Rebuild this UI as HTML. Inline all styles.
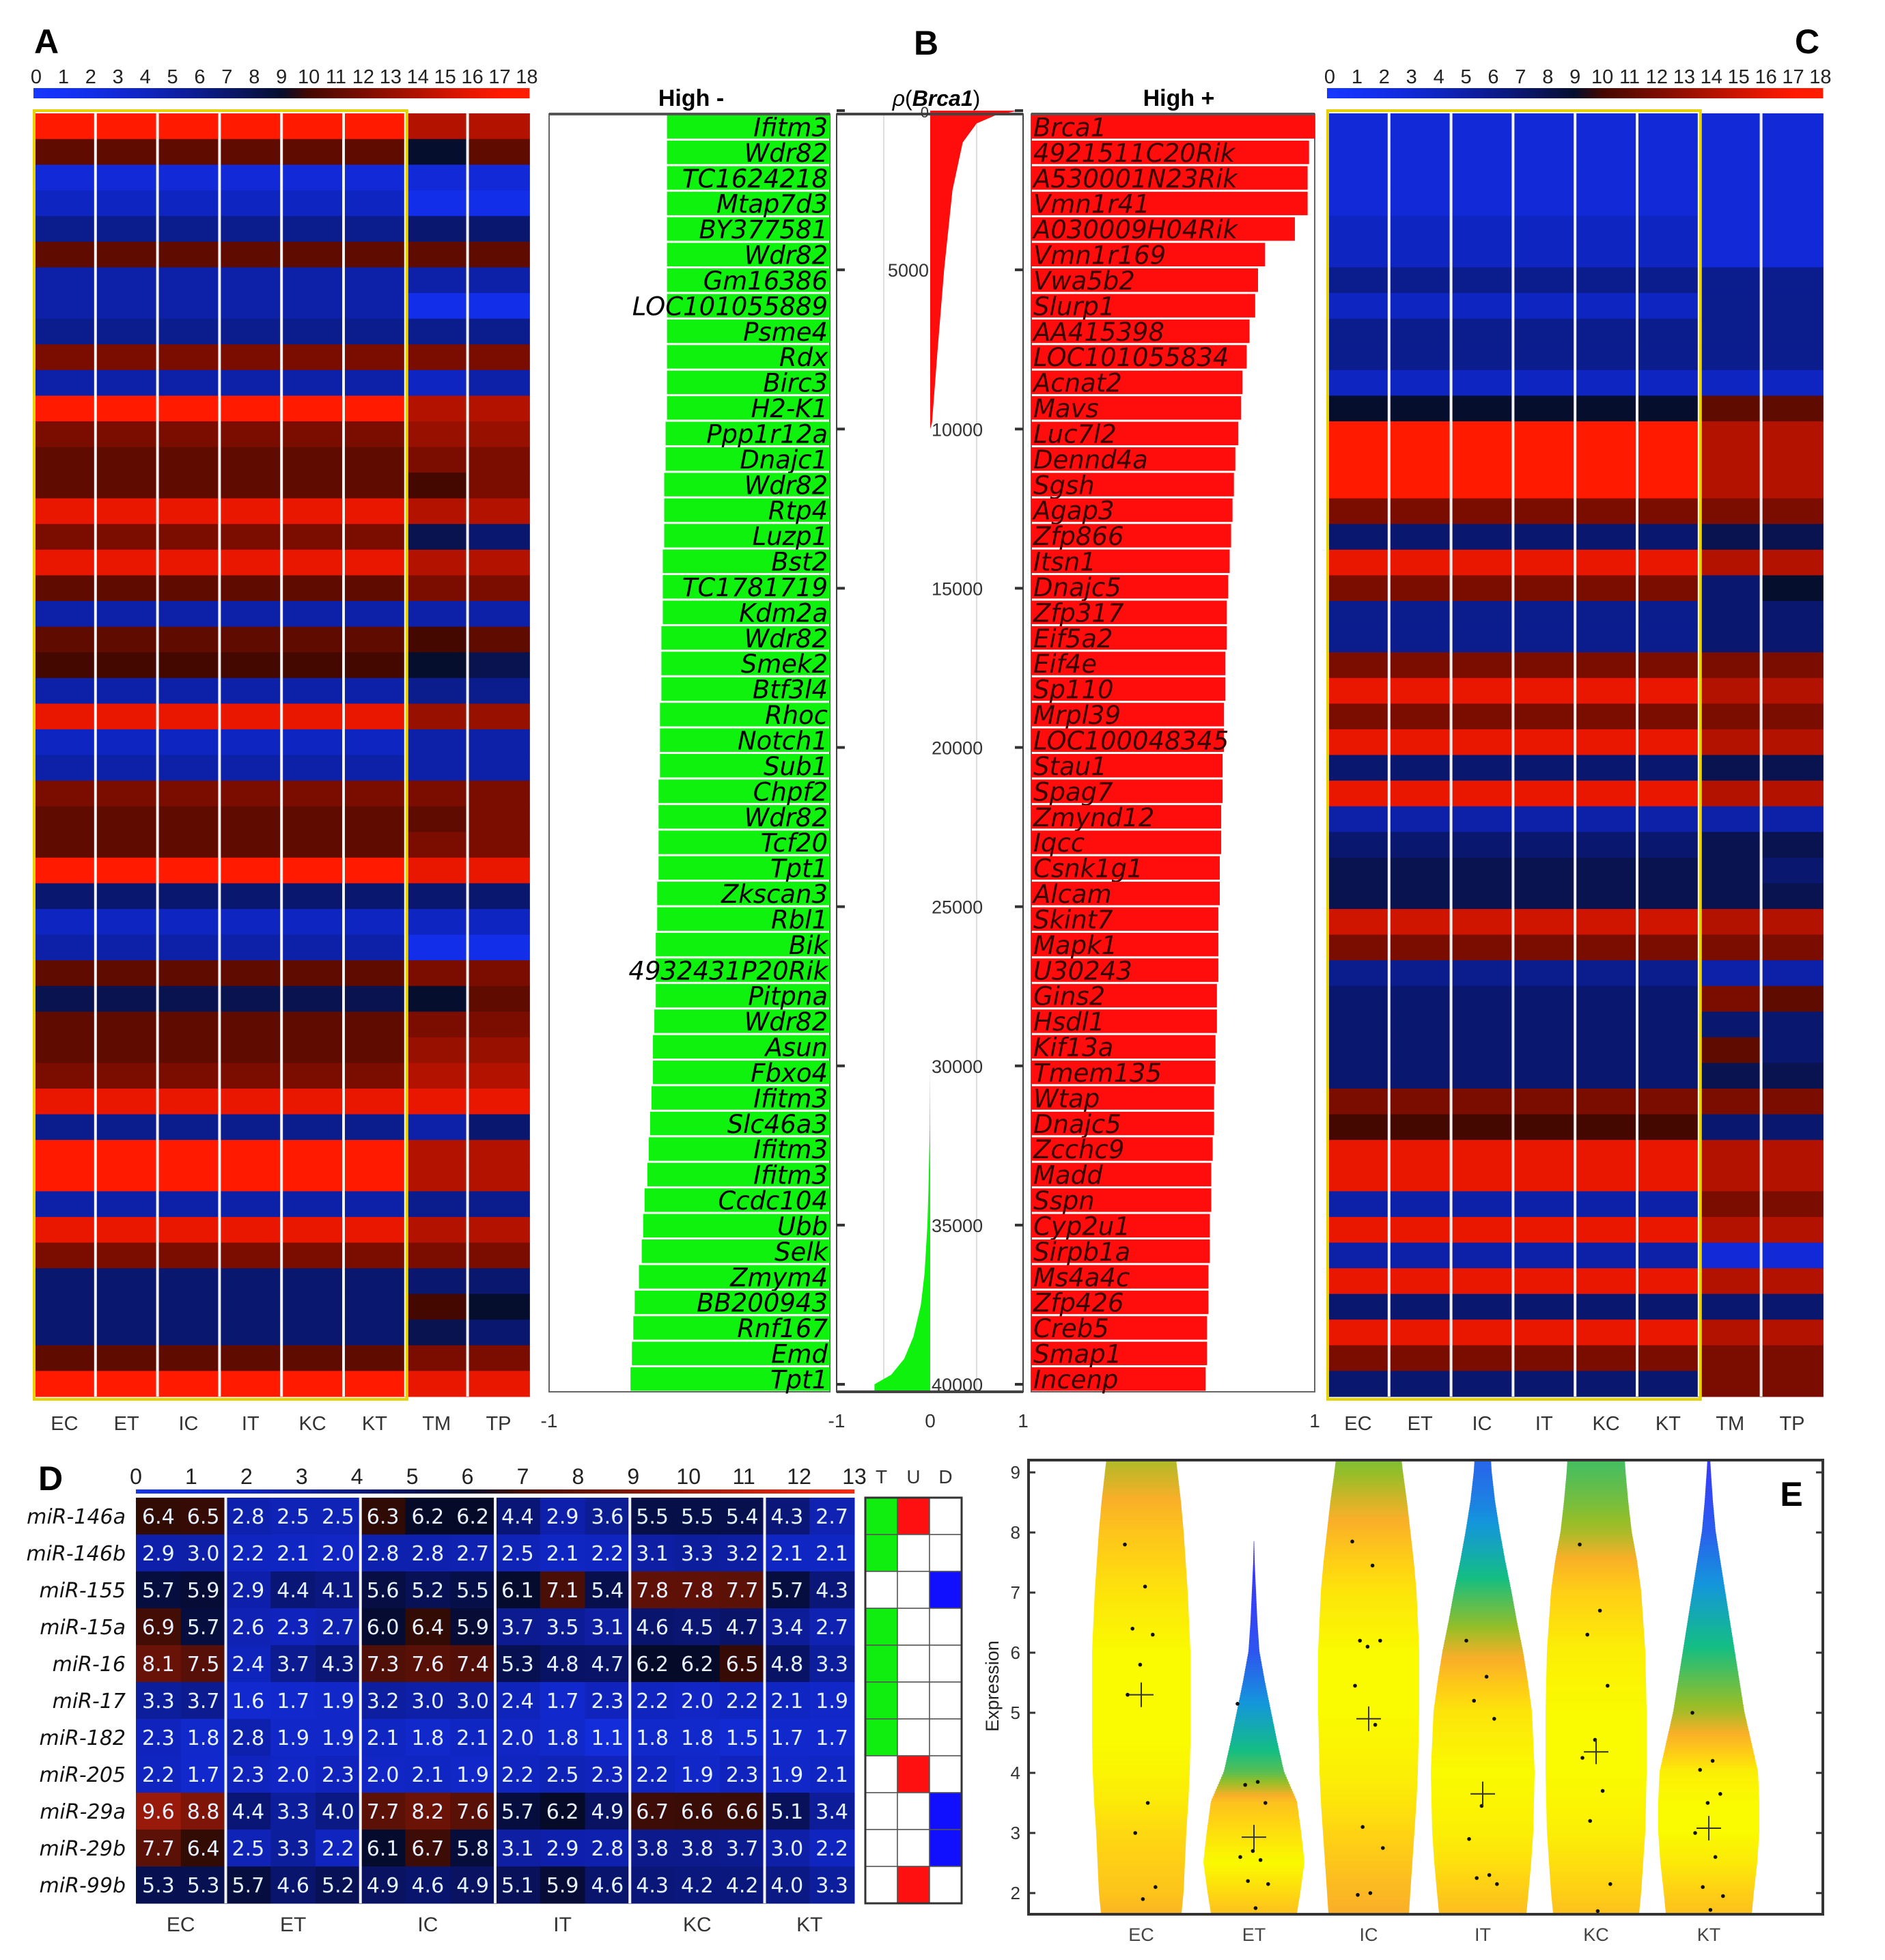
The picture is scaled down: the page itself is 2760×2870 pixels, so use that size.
<!DOCTYPE html>
<html><head><meta charset="utf-8"><style>
html,body{margin:0;padding:0;background:#fff;}
svg{display:block;}
text{font-family:"Liberation Sans","DejaVu Sans",sans-serif;}
.gene{font-family:"DejaVu Sans","Liberation Sans",sans-serif;font-style:italic;}
</style></head><body>
<svg id="fig" width="2760" height="2870" viewBox="0 0 2760 2870" xmlns="http://www.w3.org/2000/svg">
<rect x="0" y="0" width="2760" height="2870" fill="#fff"/>
<g id="pA"></g>
<g id="pB"></g>
<g id="pC"></g>
<g id="pD"></g>
<g id="pE"></g>
</svg>
<script>
// ---------- data ----------
const sampleCols = ['EC','ET','IC','IT','KC','KT','TM','TP'];
const aMain = [17,11,3,4,6,11,5,5,6,12,5,17,12,11,11,16,12,16,11,5,11,10,5,16,4,5,12,11,11,17,7,4,5,11,8,11,11,12,16,6,17,17,5,16,12,7,7,7,11,17];
const aTM   = [14,9,3,2,7,11,5,2,6,12,4,14,13,12,10,14,8,14,12,5,10,9,6,13,5,5,12,11,12,16,7,4,2,12,9,12,13,14,16,5,14,14,6,14,12,7,10,8,12,16];
const aTP   = [14,11,3,2,7,11,5,2,6,12,5,14,13,12,12,14,7,14,12,5,11,8,6,13,5,5,12,12,12,16,7,4,2,12,11,12,13,14,16,7,14,14,6,14,12,7,9,7,12,16];
const cMain = [3,3,3,3,4,4,6,4,6,6,4,9,17,17,17,12,7,16,12,6,6,12,16,12,16,7,16,5,7,8,8,15,12,6,7,7,7,7,12,10,16,16,5,16,5,16,7,16,12,7];
const cTM   = [3,3,3,3,3,3,6,6,6,6,4,11,14,14,14,12,8,14,7,7,7,12,14,12,14,8,14,5,8,8,8,14,12,5,12,7,11,8,12,7,14,14,12,14,3,14,7,14,12,12];
const cTP   = [3,3,3,3,3,3,6,6,6,6,4,11,14,14,14,12,8,14,9,7,7,12,14,12,14,8,14,5,8,7,8,14,12,5,11,7,7,8,12,7,14,14,12,14,3,14,7,14,12,12];
const negGenes = ['Ifitm3','Wdr82','TC1624218','Mtap7d3','BY377581','Wdr82','Gm16386','LOC101055889','Psme4','Rdx','Birc3','H2-K1','Ppp1r12a','Dnajc1','Wdr82','Rtp4','Luzp1','Bst2','TC1781719','Kdm2a','Wdr82','Smek2','Btf3l4','Rhoc','Notch1','Sub1','Chpf2','Wdr82','Tcf20','Tpt1','Zkscan3','Rbl1','Bik','4932431P20Rik','Pitpna','Wdr82','Asun','Fbxo4','Ifitm3','Slc46a3','Ifitm3','Ifitm3','Ccdc104','Ubb','Selk','Zmym4','BB200943','Rnf167','Emd','Tpt1'];
const negRho = [-0.58,-0.58,-0.58,-0.58,-0.58,-0.58,-0.58,-0.58,-0.58,-0.58,-0.58,-0.58,-0.585,-0.585,-0.59,-0.59,-0.59,-0.595,-0.595,-0.595,-0.6,-0.6,-0.6,-0.605,-0.605,-0.605,-0.61,-0.61,-0.61,-0.61,-0.615,-0.615,-0.62,-0.62,-0.62,-0.625,-0.63,-0.63,-0.635,-0.64,-0.645,-0.65,-0.66,-0.665,-0.67,-0.68,-0.695,-0.7,-0.705,-0.71];
const posGenes = ['Brca1','4921511C20Rik','A530001N23Rik','Vmn1r41','A030009H04Rik','Vmn1r169','Vwa5b2','Slurp1','AA415398','LOC101055834','Acnat2','Mavs','Luc7l2','Dennd4a','Sgsh','Agap3','Zfp866','Itsn1','Dnajc5','Zfp317','Eif5a2','Eif4e','Sp110','Mrpl39','LOC100048345','Stau1','Spag7','Zmynd12','Iqcc','Csnk1g1','Alcam','Skint7','Mapk1','U30243','Gins2','Hsdl1','Kif13a','Tmem135','Wtap','Dnajc5','Zcchc9','Madd','Sspn','Cyp2u1','Sirpb1a','Ms4a4c','Zfp426','Creb5','Smap1','Incenp'];
const posRho = [1.0,0.98,0.975,0.975,0.93,0.825,0.8,0.79,0.77,0.76,0.745,0.74,0.73,0.72,0.715,0.71,0.705,0.7,0.695,0.69,0.69,0.685,0.685,0.68,0.68,0.675,0.675,0.67,0.67,0.665,0.665,0.66,0.66,0.66,0.655,0.655,0.65,0.65,0.645,0.645,0.64,0.635,0.635,0.63,0.63,0.625,0.625,0.62,0.62,0.615];
const redRank = [0,150,400,1000,2500,5000,7500,9800,10000];
const redRho  = [0.95,0.7,0.5,0.35,0.24,0.15,0.08,0.02,0];
const greenRank = [30000,32000,34000,35000,36500,37500,38500,39200,39700,40000];
const greenRho  = [0,-0.005,-0.02,-0.03,-0.06,-0.1,-0.18,-0.28,-0.42,-0.6];
const rankTicks = [0,5000,10000,15000,20000,25000,30000,35000,40000];
const mirNames = ['miR-146a','miR-146b','miR-155','miR-15a','miR-16','miR-17','miR-182','miR-205','miR-29a','miR-29b','miR-99b'];
const mirVals = [
[6.4,6.5,2.8,2.5,2.5,6.3,6.2,6.2,4.4,2.9,3.6,5.5,5.5,5.4,4.3,2.7],
[2.9,3.0,2.2,2.1,2.0,2.8,2.8,2.7,2.5,2.1,2.2,3.1,3.3,3.2,2.1,2.1],
[5.7,5.9,2.9,4.4,4.1,5.6,5.2,5.5,6.1,7.1,5.4,7.8,7.8,7.7,5.7,4.3],
[6.9,5.7,2.6,2.3,2.7,6.0,6.4,5.9,3.7,3.5,3.1,4.6,4.5,4.7,3.4,2.7],
[8.1,7.5,2.4,3.7,4.3,7.3,7.6,7.4,5.3,4.8,4.7,6.2,6.2,6.5,4.8,3.3],
[3.3,3.7,1.6,1.7,1.9,3.2,3.0,3.0,2.4,1.7,2.3,2.2,2.0,2.2,2.1,1.9],
[2.3,1.8,2.8,1.9,1.9,2.1,1.8,2.1,2.0,1.8,1.1,1.8,1.8,1.5,1.7,1.7],
[2.2,1.7,2.3,2.0,2.3,2.0,2.1,1.9,2.2,2.5,2.3,2.2,1.9,2.3,1.9,2.1],
[9.6,8.8,4.4,3.3,4.0,7.7,8.2,7.6,5.7,6.2,4.9,6.7,6.6,6.6,5.1,3.4],
[7.7,6.4,2.5,3.3,2.2,6.1,6.7,5.8,3.1,2.9,2.8,3.8,3.8,3.7,3.0,2.2],
[5.3,5.3,5.7,4.6,5.2,4.9,4.6,4.9,5.1,5.9,4.6,4.3,4.2,4.2,4.0,3.3]];
const mirGroups = ['EC','ET','IC','IT','KC','KT'];
const mirGroupSizes = [2,3,3,3,3,2];
const tudT = [1,1,0,1,1,1,1,0,0,0,0];
const tudU = [1,0,0,0,0,0,0,1,0,0,1];
const tudD = [0,0,1,0,0,0,0,0,1,1,0];
const violinGroups = ['EC','ET','IC','IT','KC','KT'];
const vLevels = [1.65,2,2.5,3,3.5,4,4.5,5,5.5,6,6.5,7,7.5,8,8.5,9,9.2];
const vEC = [59,62,64,66,69,71,72,72,72,72,70,68,65,62,58,53,51];
const vET = [63,68,74,69,63,44,34,25,16,8,5,3,1,0,0,0,0];
const vIC = [59,61,64,67,70,72,73,74,74,74,72,70,66,61,56,50,48];
const vIT = [64,67,71,74,75,76,74,72,66,59,50,42,33,25,18,13,12];
const vKC = [63,66,69,72,73,74,74,74,73,72,69,66,60,52,47,43,42];
const vKT = [63,66,71,74,74,72,62,52,45,38,31,24,17,10,6,3,2];
const vMeans = [5.3,2.93,4.9,3.65,4.35,3.08];
const ptsEC = [7.8,7.1,6.4,6.3,5.8,5.3,3.5,3.0,2.1,1.9];
const ptsET = [5.15,3.85,3.8,3.5,2.7,2.6,2.55,2.2,2.15,1.75];
const ptsIC = [7.85,7.45,6.2,6.2,6.1,5.45,4.8,3.1,2.75,2.0,1.97];
const ptsIT = [6.2,5.6,5.2,4.9,3.45,2.9,2.3,2.25,2.15];
const ptsKC = [7.8,6.7,6.3,5.45,4.55,4.25,3.7,3.2,2.15,1.7];
const ptsKT = [5.0,4.2,4.05,3.65,3.5,3.0,2.6,2.1,1.95,1.72];

// ---------- helpers ----------
const NS='http://www.w3.org/2000/svg';
function mk(parent,tag,attrs,txt){const e=document.createElementNS(NS,tag);for(const k in attrs)e.setAttribute(k,attrs[k]);if(txt!==undefined)e.textContent=txt;parent.appendChild(e);return e;}
function lerp(a,b,t){return a+(b-a)*t;}
function rgb(r,g,b){return 'rgb('+Math.round(Math.min(255,r))+','+Math.round(Math.min(255,g))+','+Math.round(Math.min(255,b))+')';}
function heat18(v){
  if(v<=9){const t=v/9;return rgb(lerp(22,6,t),lerp(55,14,t),255-210*Math.pow(t,1.5));}
  const t=(v-9)/9;return rgb(40+250*t,6+22*t,0);
}
function heat13(v){
  if(v<=6.2){const t=v/6.2;return rgb(lerp(22,5,t),lerp(52,10,t),232-192*Math.pow(t,1.5));}
  const t=(v-6.2)/6.8;return rgb(45+215*t,10+30*t,5+10*t);
}
function parula(t){
  const stops=[[0,[60,50,250]],[0.3,[20,150,220]],[0.5,[20,190,130]],[0.68,[150,190,40]],[0.8,[250,175,40]],[0.9,[255,210,20]],[1,[250,250,0]]];
  t=Math.max(0,Math.min(1,t));
  for(let i=1;i<stops.length;i++){if(t<=stops[i][0]){const a=stops[i-1],b=stops[i];const u=(t-a[0])/(b[0]-a[0]);return rgb(lerp(a[1][0],b[1][0],u),lerp(a[1][1],b[1][1],u),lerp(a[1][2],b[1][2],u));}}
  return rgb(250,250,0);
}

// ---------- panel A & C heatmaps ----------
function heatPanel(g,x0,main,tm,tp,letter,letterX,pfx){
  const top=166,rowH=(2045-166)/50,colW=90.8;
  const lab=mk(g,'text',{x:letterX,y:78,'font-size':50,'font-weight':'bold','text-anchor':'middle'},letter);
  
  
  const gid='cb'+pfx;
  const defs=mk(g,'defs',{});
  const lg=mk(defs,'linearGradient',{id:gid,x1:0,x2:1,y1:0,y2:0});
  for(let i=0;i<=18;i++){mk(lg,'stop',{offset:(i/18),'stop-color':heat18(i)});}
  const cb=mk(g,'rect',{x:x0,y:129,width:colW*8,height:15,fill:'url(#'+gid+')'});
  
  
  for(let i=0;i<=18;i++){
    const t=mk(g,'text',{x:x0+4+i*(colW*8-8)/18,y:122,'font-size':29,'text-anchor':'middle',fill:'#222'},String(i));
    
    
  }
  for(let r=0;r<50;r++){
    for(let c=0;c<8;c++){
      const v=c<6?main[r]:(c===6?tm[r]:tp[r]);
      const cell=mk(g,'rect',{x:x0+c*colW,y:top+r*rowH,width:colW+0.5,height:rowH+0.5,fill:heat18(v)});
      
      
    }
  }
  for(let c=1;c<8;c++){mk(g,'rect',{x:x0+c*colW-2,y:top,width:4,height:rowH*50,fill:'#f4f4f4'});}
  const yb=mk(g,'rect',{x:x0+1,y:top-4,width:colW*6+1,height:rowH*50+8,fill:'none',stroke:'#e6d200','stroke-width':4});
  
  
  for(let c=0;c<8;c++){
    const t=mk(g,'text',{x:x0+(c+0.5)*colW,y:2094,'font-size':29,'text-anchor':'middle',fill:'#333'},sampleCols[c]);
    
    
  }
}
heatPanel(document.getElementById('pA'),49,aMain,aTM,aTP,'A',68,'a');
heatPanel(document.getElementById('pC'),1943,cMain,cTM,cTP,'C',2646,'c');

// ---------- panel B ----------
(function(){
  const g=document.getElementById('pB');
  const top=167,bot=2038,rowH=(bot-top)/50;
  const L0=804,L1=1215, M0=1225,Mz=1362,M1=1498, R0=1510,R1=1925;
  const xNeg=v=>L1+v*(L1-L0);
  const xPos=v=>R0+v*(R1-R0);
  const xMid=v=>Mz+v*(M1-Mz);
  const yRank=k=>162+k*(2027-162)/40000;
  const bl=mk(g,'text',{x:1356,y:80,'font-size':50,'font-weight':'bold','text-anchor':'middle'},'B');
  
  
  const t1=mk(g,'text',{x:1012,y:155,'font-size':34,'font-weight':'bold','text-anchor':'middle'},'High -');
  
  
  const t2=mk(g,'text',{x:1371,y:155,'font-size':32,'text-anchor':'middle'});
  
  
  mk(t2,'tspan',{'font-style':'italic'},'ρ');mk(t2,'tspan',{},'(');mk(t2,'tspan',{'font-style':'italic','font-weight':'bold'},'Brca1');mk(t2,'tspan',{},')');
  const t3=mk(g,'text',{x:1726,y:155,'font-size':34,'font-weight':'bold','text-anchor':'middle'},'High +');
  
  
  mk(g,'rect',{x:L0,y:top,width:L1-L0,height:bot-top,fill:'#fff',stroke:'#666','stroke-width':2});
  mk(g,'rect',{x:R0,y:top,width:R1-R0,height:bot-top,fill:'#fff',stroke:'#666','stroke-width':2});
  for(let i=0;i<50;i++){
    const y=top+i*rowH;
    const b=mk(g,'rect',{x:xNeg(negRho[i]),y:y+1.5,width:L1-xNeg(negRho[i]),height:rowH-3,fill:'#0ef20e'});
    
    
    const tx=mk(g,'text',{class:'gene',x:L1-3,y:y+rowH-5,'font-size':37,'text-anchor':'end',fill:'#000','font-weight':'500'},negGenes[i]);
    
    
    const rb=mk(g,'rect',{x:R0,y:y+1.5,width:xPos(posRho[i])-R0,height:rowH-3,fill:'#ff0d0d'});
    
    
    const rt=mk(g,'text',{class:'gene',x:R0+3,y:y+rowH-5,'font-size':37,'text-anchor':'start',fill:'#3a0000'},posGenes[i]);
    
    
  }
  mk(g,'line',{x1:L0,y1:top,x2:L1,y2:top,stroke:'#555','stroke-width':4});
  mk(g,'line',{x1:R0,y1:top,x2:R1,y2:top,stroke:'#555','stroke-width':4});
  mk(g,'rect',{x:M0,y:top,width:M1-M0,height:bot-top,fill:'#fff',stroke:'#444','stroke-width':2});
  [-0.5,0.5].forEach(v=>mk(g,'line',{x1:xMid(v),y1:top,x2:xMid(v),y2:bot,stroke:'#ddd','stroke-width':2}));
  let d='M'+xMid(0)+','+yRank(redRank[0]);
  for(let i=0;i<redRank.length;i++)d+=' L'+xMid(redRho[i]).toFixed(1)+','+yRank(redRank[i]).toFixed(1);
  d+=' L'+xMid(0)+','+yRank(redRank[redRank.length-1])+' Z';
  const rc=mk(g,'path',{d:d,fill:'#ff0d0d'});
  
  
  let d2='M'+xMid(0)+','+yRank(greenRank[0]);
  for(let i=0;i<greenRank.length;i++)d2+=' L'+xMid(greenRho[i]).toFixed(1)+','+yRank(greenRank[i]).toFixed(1);
  d2+=' L'+xMid(greenRho[greenRho.length-1]).toFixed(1)+','+bot+' L'+xMid(0)+','+bot+' Z';
  const gc=mk(g,'path',{d:d2,fill:'#0ef20e'});
  
  
  mk(g,'line',{x1:M0,y1:top,x2:M1,y2:top,stroke:'#444','stroke-width':4});
  mk(g,'line',{x1:M0,y1:bot,x2:M1,y2:bot,stroke:'#444','stroke-width':4});
  rankTicks.forEach(k=>{
    const y=yRank(k);
    mk(g,'line',{x1:M0,y1:y,x2:M0+12,y2:y,stroke:'#333','stroke-width':4});
    mk(g,'line',{x1:M1-12,y1:y,x2:M1,y2:y,stroke:'#333','stroke-width':4});
    const anchor=k<10000?'end':'start';
    const tt=mk(g,'text',{x:k<10000?Mz-2:Mz+2,y:y+10,'font-size':k===0?22:27,'text-anchor':anchor,fill:'#333'},String(k));
    
    
  });
  [[L0,'-1'],[M0,'-1'],[Mz,'0'],[M1,'1'],[R1,'1']].forEach(p=>{
    const tt=mk(g,'text',{x:p[0],y:2090,'font-size':28,'text-anchor':'middle',fill:'#333'},p[1]);
    
    
  });
})();

// ---------- panel D ----------
(function(){
  const g=document.getElementById('pD');
  const x0=199,x1=1251,y0=2193,y1=2787;
  const cw=(x1-x0)/16,rh=(y1-y0)/11;
  const dl=mk(g,'text',{x:74,y:2182,'font-size':50,'font-weight':'bold','text-anchor':'middle'},'D');
  
  
  const defs=mk(g,'defs',{});
  const lg=mk(defs,'linearGradient',{id:'cbd',x1:0,x2:1,y1:0,y2:0});
  for(let i=0;i<=13;i++)mk(lg,'stop',{offset:i/13,'stop-color':heat13(i)});
  const cb=mk(g,'rect',{x:x0,y:2181,width:x1-x0,height:6,fill:'url(#cbd)'});
  
  
  for(let i=0;i<=13;i++){
    const t=mk(g,'text',{x:x0+i*(x1-x0)/13,y:2173,'font-size':32,'text-anchor':'middle',fill:'#222'},String(i));
    
    
  }
  for(let r=0;r<11;r++){
    const nl=mk(g,'text',{class:'gene',x:184,y:y0+(r+0.5)*rh+11,'font-size':30,'text-anchor':'end',fill:'#111'},mirNames[r]);
    
    
    for(let c=0;c<16;c++){
      const v=mirVals[r][c];
      const cell=mk(g,'rect',{x:x0+c*cw,y:y0+r*rh,width:cw+0.5,height:rh+0.5,fill:heat13(v)});
      
      
      const tv=mk(g,'text',{x:x0+(c+0.5)*cw,y:y0+(r+0.5)*rh+11,'font-size':30,'text-anchor':'middle',fill:'#e6f2ff',style:'font-family:"DejaVu Sans",sans-serif'},v.toFixed(1));
      
      
    }
  }
  let acc=0;
  for(let gi=0;gi<mirGroups.length;gi++){
    const xs=x0+acc*cw,xe=x0+(acc+mirGroupSizes[gi])*cw;
    if(gi>0)mk(g,'rect',{x:xs-2,y:y0,width:4,height:y1-y0,fill:'#f4f4f4'});
    const t=mk(g,'text',{x:(xs+xe)/2,y:2828,'font-size':30,'text-anchor':'middle',fill:'#333'},mirGroups[gi]);
    
    
    acc+=mirGroupSizes[gi];
  }
  const tx0=1267,tw=47;
  const tud=[tudT,tudU,tudD],tc=['#10ee10','#ff1010','#1010ff'],tl=['T','U','D'];
  for(let k=0;k<3;k++){
    const t=mk(g,'text',{x:tx0+(k+0.5)*tw,y:2172,'font-size':28,'text-anchor':'middle',fill:'#333'},tl[k]);
    
    
    for(let r=0;r<11;r++){
      const c=mk(g,'rect',{x:tx0+k*tw,y:y0+r*rh,width:tw,height:rh,fill:tud[k][r]?tc[k]:'#fff',stroke:'#555','stroke-width':1.5});
      
      
    }
  }
  mk(g,'rect',{x:tx0,y:y0,width:tw*3,height:y1-y0,fill:'none',stroke:'#333','stroke-width':3});
})();

// ---------- panel E ----------
(function(){
  const g=document.getElementById('pE');
  const bx0=1506,bx1=2669,by0=2138,by1=2803;
  const yv=v=>2772-(v-2)*88;
  const centers=[1671,1836,2004,2171,2337,2502];
  const widths=[vEC,vET,vIC,vIT,vKC,vKT];
  const pts=[ptsEC,ptsET,ptsIC,ptsIT,ptsKC,ptsKT];
  const defs=mk(g,'defs',{});
  mk(mk(defs,'clipPath',{id:'eclip'}),'rect',{x:bx0,y:by0,width:bx1-bx0,height:by1-by0});
  const vg=mk(g,'g',{'clip-path':'url(#eclip)'});
  const step=0.04;
  for(let vi=0;vi<6;vi++){
    const w=widths[vi];const mx=Math.max.apply(null,w);
    const grp=mk(vg,'g',{});
    
    
    for(let v=vLevels[0];v<vLevels[vLevels.length-1];v+=step){
      let j=0;while(j<vLevels.length-2&&vLevels[j+1]<v)j++;
      const t=(v-vLevels[j])/(vLevels[j+1]-vLevels[j]);
      const hw=lerp(w[j],w[j+1],Math.max(0,Math.min(1,t)));
      if(hw<=0.3)continue;
      mk(grp,'rect',{x:centers[vi]-hw,y:yv(v+step)-0.5,width:2*hw,height:step*88+1,fill:parula(hw/mx)});
    }
    pts[vi].forEach((p,k)=>{
      const dot=mk(grp,'circle',{cx:centers[vi]+((k*37)%60-30)*0.8,cy:yv(p),r:2.8,fill:'#111'});
      
      
    });
    const m=vMeans[vi],my=yv(m),cx=centers[vi];
    const cr=mk(grp,'path',{d:'M'+(cx-18)+','+my+' L'+(cx+18)+','+my+' M'+cx+','+(my-18)+' L'+cx+','+(my+18),stroke:'#333','stroke-width':2});
    
    
    const lb=mk(g,'text',{x:cx,y:2842,'font-size':27,'text-anchor':'middle',fill:'#444'},violinGroups[vi]);
    
    
  }
  const box=mk(g,'rect',{x:bx0,y:by0,width:bx1-bx0,height:by1-by0,fill:'none',stroke:'#333','stroke-width':4});
  
  
  for(let v=2;v<=9;v++){
    const y=yv(v);
    mk(g,'line',{x1:bx0,y1:y,x2:bx0+10,y2:y,stroke:'#333','stroke-width':3});
    mk(g,'line',{x1:bx1-10,y1:y,x2:bx1,y2:y,stroke:'#333','stroke-width':3});
    const t=mk(g,'text',{x:bx0-12,y:y+9,'font-size':26,'text-anchor':'end',fill:'#333'},String(v));
    
    
  }
  const yt=mk(g,'text',{x:1462,y:2469,'font-size':27,'text-anchor':'middle',fill:'#222',transform:'rotate(-90 1462 2469)'},'Expression');
  
  
  const el=mk(g,'text',{x:2623,y:2205,'font-size':50,'font-weight':'bold','text-anchor':'middle'},'E');
  
  
})();
</script>
</body></html>
